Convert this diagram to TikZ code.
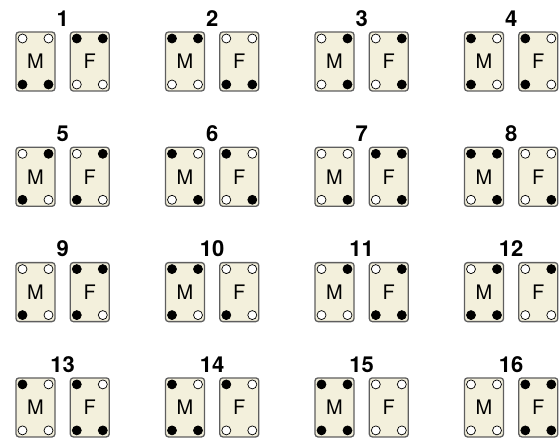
\documentclass[tikz,border=0pt]{standalone}
\usepackage{fontspec}
\setmainfont{TeX Gyre Heros}
\usetikzlibrary{positioning, calc}
\definecolor{cardCream}{HTML}{F3F0DC}
\definecolor{cardEdge}{HTML}{5E5E5E}

\begin{document}
\begin{tikzpicture}[
        x=1pt, y=-1pt,
        card/.style={rectangle, rounded corners=3pt, draw=cardEdge, fill=cardCream, line width=1.3pt, minimum width=39pt, minimum height=59pt, inner sep=0pt, font=\fontsize{20}{22}\selectfont},
        dot0/.style={circle, draw=black, fill=white, line width=0.7pt, minimum size=9pt, inner sep=0pt},
        dot1/.style={dot0, fill=black},
        numlabel/.style={anchor=base, inner sep=0pt, font=\fontsize{22}{24}\selectfont\bfseries},
    ]
        \useasboundingbox (0,0) rectangle (560,441);

        % Pairs: number/column/row/M dots/F dots (dots: TL, TR, BL, BR; 1 = black)
        \foreach \n/\c/\r/\mdots/\fdots in {
            1/0/0/{0,0,1,1}/{1,1,0,0},
            2/1/0/{1,1,0,0}/{0,0,1,1},
            3/2/0/{0,1,0,1}/{0,1,0,1},
            4/3/0/{1,0,1,0}/{1,0,1,0},
            5/0/1/{0,1,1,0}/{0,1,1,0},
            6/1/1/{1,0,0,1}/{1,0,0,1},
            7/2/1/{0,0,0,1}/{1,1,0,1},
            8/3/1/{1,1,0,1}/{0,0,0,1},
            9/0/2/{0,0,1,0}/{1,1,1,0},
            10/1/2/{1,1,1,0}/{0,0,1,0},
            11/2/2/{0,1,0,0}/{0,1,1,1},
            12/3/2/{0,1,1,1}/{0,1,0,0},
            13/0/3/{1,0,0,0}/{1,0,1,1},
            14/1/3/{1,0,1,1}/{1,0,0,0},
            15/2/3/{1,1,1,1}/{0,0,0,0},
            16/3/3/{0,0,0,0}/{1,1,1,1}} {
            % Cards
            \node[card] (m\n) at (35.5+149.5*\c, 61.5+115.3*\r) {M};
            \node[card, right=14pt of m\n] (f\n) {F};

            % Number
            \node[numlabel] (n\n) at ($(m\n.north)!0.5!(f\n.north) + (0,-5)$) {\n};

            % Corner dots
            \foreach \d [count=\i] in \mdots {
                \pgfmathsetmacro\dx{ifthenelse(mod(\i,2)==1,-13,13)}
                \pgfmathsetmacro\dy{ifthenelse(\i<3,-23,23)}
                \node[dot\d] (m\n-d\i) at ($(m\n)+(\dx,\dy)$) {};
            }
            \foreach \d [count=\i] in \fdots {
                \pgfmathsetmacro\dx{ifthenelse(mod(\i,2)==1,-13,13)}
                \pgfmathsetmacro\dy{ifthenelse(\i<3,-23,23)}
                \node[dot\d] (f\n-d\i) at ($(f\n)+(\dx,\dy)$) {};
            }
        }

    \end{tikzpicture}
\end{document}
